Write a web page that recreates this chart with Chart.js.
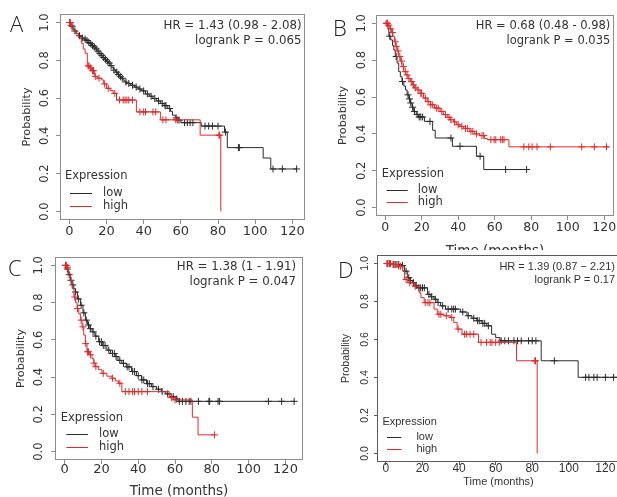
<!DOCTYPE html>
<html>
<head>
<meta charset="utf-8">
<script src="https://cdn.jsdelivr.net/npm/chart.js@4.4.1/dist/chart.umd.min.js"></script>
<style>
	html, body { margin: 0; padding: 0; background: #fff; }
	#figure { position: relative; width: 617px; height: 497px; overflow: hidden; background: #fff; }
	.panel { position: absolute; overflow: hidden; }
	.panel canvas { display: block; }
	.tag { position: absolute; z-index: 2; font-family: 'Open Sans', sans-serif; font-weight: 300; font-size: 22px; line-height: 22px; color: #222; }
</style>
</head>
<body>
<div id="figure">
	<div class="panel" style="left:20px;top:0;width:290px;height:250px"><canvas id="chartA" width="290" height="250"></canvas></div>
	<div class="panel" style="left:336px;top:0;width:281px;height:250px"><canvas id="chartB" width="283" height="260"></canvas></div>
	<div class="panel" style="left:14px;top:250px;width:294px;height:247px"><canvas id="chartC" width="294" height="250"></canvas></div>
	<div class="panel" style="left:339px;top:250px;width:278px;height:247px"><canvas id="chartD" width="286" height="239"></canvas></div>
	<div class="tag" style="left:10px;top:12px">A</div>
	<div class="tag" style="left:333px;top:16px">B</div>
	<div class="tag" style="left:8px;top:256px">C</div>
	<div class="tag" style="left:338px;top:258px">D</div>
</div>
<script>
// shared labels
const legendTitle = 'Expression';
const groupLabels = ['low', 'high'];
const yTitle = 'Probability';
const xTitle = 'Time (months)';

// A
const aNotes = ['HR = 1.43 (0.98 - 2.08)', 'logrank P = 0.065'];
const aLowSteps = [[0,1],[0.5,0.99],[1,0.98],[2,0.965],[3,0.955],[4,0.942],[5,0.93],[6,0.925],[7,0.918],[8,0.912],[9,0.905],[10,0.895],[11,0.888],[12,0.878],[13,0.87],[14,0.86],[15,0.848],[16,0.836],[17,0.826],[18,0.815],[19,0.805],[20,0.795],[21,0.785],[22,0.772],[23,0.76],[24,0.748],[25,0.737],[26,0.725],[27,0.713],[28,0.705],[29,0.695],[30,0.685],[31,0.677],[33,0.668],[35,0.658],[37,0.648],[39,0.638],[41,0.622],[43,0.61],[45,0.598],[47,0.585],[49,0.572],[51,0.56],[53,0.545],[54.5,0.53],[55.5,0.51],[57,0.495],[58.5,0.483],[60,0.47],[71,0.452],[83.5,0.42],[85,0.338],[104.3,0.283],[108.4,0.225],[122.3,0.225]];
const aLowCens = [[0.3,1],[1.5,0.98],[3,0.955],[5.5,0.93],[7,0.918],[8.5,0.912],[9.5,0.905],[10.5,0.895],[11.5,0.888],[12.5,0.878],[13.5,0.87],[14.5,0.86],[15.5,0.848],[16.5,0.836],[17.5,0.826],[18.5,0.815],[19.5,0.805],[20.5,0.795],[21.5,0.785],[22.5,0.772],[24,0.748],[25.5,0.737],[26.5,0.725],[27.5,0.713],[28.5,0.705],[30.5,0.685],[32,0.677],[34,0.668],[36,0.658],[38,0.648],[40,0.638],[42,0.622],[44,0.61],[46,0.598],[48,0.585],[50,0.572],[51.5,0.56],[52,0.56],[54,0.545],[57.5,0.495],[59,0.483],[62,0.47],[63.5,0.47],[65,0.47],[66.5,0.47],[73,0.452],[75,0.452],[77,0.452],[80,0.452],[84,0.42],[91,0.338],[91.5,0.338],[109.6,0.225],[114.6,0.225],[122.3,0.225]];
const aHighSteps = [[0,1],[0.8,0.985],[2,0.96],[3.5,0.94],[5,0.918],[6.5,0.89],[7.5,0.86],[8.5,0.838],[9.7,0.77],[11,0.76],[12,0.745],[13.5,0.715],[15,0.705],[17.4,0.696],[18.5,0.675],[20,0.652],[22,0.64],[23.6,0.625],[25.4,0.59],[36.1,0.527],[49,0.485],[70.4,0.404],[81.5,0]];
const aHighCens = [[0.3,1],[0.6,1],[1,0.985],[10.2,0.77],[10.6,0.77],[11.5,0.76],[12.5,0.745],[13,0.745],[14,0.715],[16,0.705],[19,0.675],[21,0.652],[24.5,0.625],[27,0.59],[29,0.59],[30,0.59],[31,0.59],[32,0.59],[34,0.59],[38,0.527],[40,0.527],[41,0.527],[45,0.527],[46.5,0.527],[50.3,0.485],[52,0.485],[57.3,0.485],[58.2,0.485],[80.5,0.404],[80.9,0.404]];

// B
const bNotes = ['HR = 0.68 (0.48 - 0.98)', 'logrank P = 0.035'];
const bLowSteps = [[0,1],[1.5,0.97],[2,0.93],[3,0.91],[4,0.88],[4.7,0.856],[5.5,0.82],[6.5,0.784],[7.4,0.738],[8.3,0.71],[9.2,0.684],[10.2,0.66],[11.1,0.639],[12,0.612],[13,0.59],[13.8,0.568],[14.7,0.545],[15.6,0.522],[17,0.505],[18.3,0.492],[21.5,0.468],[26,0.42],[27.4,0.378],[36.8,0.333],[50,0.279],[54,0.207],[77.5,0.207]];
const bLowCens = [[2.5,0.93],[6,0.82],[9.5,0.684],[12.5,0.612],[13.3,0.59],[14,0.568],[15,0.545],[16,0.522],[17.5,0.505],[18.6,0.492],[19.5,0.492],[20.5,0.492],[24.5,0.468],[36,0.378],[41,0.333],[52,0.279],[66,0.207],[77.5,0.207]];
const bHighSteps = [[0,1],[1.5,0.99],[2.5,0.97],[3.5,0.95],[4.2,0.93],[5,0.9],[5.8,0.875],[6.6,0.85],[7.4,0.82],[8.3,0.795],[9.2,0.765],[10.2,0.738],[11.2,0.72],[12.5,0.7],[13.8,0.684],[15,0.665],[16.2,0.65],[17.4,0.639],[19,0.62],[21,0.595],[23,0.575],[24.7,0.558],[27,0.54],[30.1,0.522],[32,0.505],[34,0.49],[35.6,0.477],[37.5,0.465],[39,0.45],[41,0.441],[43,0.43],[46.4,0.414],[49,0.4],[51.9,0.391],[54.5,0.375],[56,0.369],[67.8,0.33],[122.5,0.33]];
const bHighCens = [[0.5,1],[1,1],[1.2,1],[2,0.99],[3,0.97],[4,0.95],[5.5,0.9],[6,0.875],[7,0.85],[8,0.82],[9,0.795],[10,0.765],[11,0.738],[12,0.72],[13,0.7],[14.5,0.684],[15.5,0.665],[16.5,0.65],[18,0.639],[19.5,0.62],[20,0.62],[22,0.595],[23.5,0.575],[25,0.558],[26,0.558],[28,0.54],[29,0.54],[31,0.522],[33,0.505],[35,0.49],[36,0.477],[38,0.465],[40,0.45],[42,0.441],[44,0.43],[45,0.43],[47,0.414],[48,0.414],[50,0.4],[53,0.391],[54,0.391],[57.9,0.369],[59.7,0.369],[60.6,0.369],[63.3,0.369],[64.2,0.369],[65.1,0.369],[76,0.33],[78.7,0.33],[80.5,0.33],[83.2,0.33],[90.5,0.33],[107.7,0.33],[114.6,0.33],[121.3,0.33]];

// C
const cNotes = ['HR = 1.38 (1 - 1.91)', 'logrank P = 0.047'];
const cLowSteps = [[0,1],[1,0.98],[2,0.95],[3.2,0.92],[4,0.895],[5,0.875],[5.9,0.857],[7,0.82],[8.6,0.786],[10,0.745],[11.3,0.706],[12.5,0.68],[13.7,0.66],[14.9,0.643],[16.5,0.62],[18.5,0.59],[20.5,0.57],[23,0.545],[25,0.527],[27.5,0.51],[29,0.49],[31.1,0.474],[33.5,0.455],[36.4,0.43],[39,0.408],[41.8,0.385],[44.5,0.365],[47.2,0.349],[50,0.335],[52.6,0.322],[55,0.31],[58,0.296],[60.5,0.282],[62,0.27],[125,0.27]];
const cLowCens = [[0.5,1],[1.5,0.98],[2.5,0.95],[3.5,0.92],[4.5,0.895],[6,0.857],[7.5,0.82],[9,0.786],[10.5,0.745],[11.8,0.706],[13,0.68],[14,0.66],[15.5,0.643],[17,0.62],[19,0.59],[20,0.59],[21,0.57],[22,0.57],[24,0.545],[26,0.527],[27,0.527],[28,0.51],[30,0.49],[32,0.474],[34,0.455],[35,0.455],[37,0.43],[38,0.43],[40,0.408],[42,0.385],[43,0.385],[45,0.365],[46,0.365],[48,0.349],[51,0.335],[53,0.322],[56,0.31],[59,0.296],[61,0.282],[62.3,0.27],[64,0.27],[65.9,0.27],[67.7,0.27],[68.6,0.27],[72.7,0.27],[78.4,0.27],[78.8,0.27],[83.4,0.27],[84.2,0.27],[110.7,0.27],[117.9,0.27],[124.7,0.27]];
const cHighSteps = [[0,1],[1,0.99],[2,0.96],[3,0.92],[4.1,0.875],[5.1,0.83],[6,0.8],[6.8,0.768],[7.7,0.74],[8.6,0.706],[9.5,0.67],[10.4,0.626],[11.3,0.58],[12.2,0.536],[13.5,0.52],[14.9,0.5],[15.8,0.475],[16.7,0.456],[18.5,0.44],[20.3,0.42],[23,0.405],[25.7,0.394],[27.5,0.38],[29.3,0.367],[31.1,0.322],[56.9,0.29],[59,0.278],[69.4,0.185],[72.5,0.09],[81.5,0.09]];
const cHighCens = [[0.5,1],[1,1],[1.5,0.99],[5.5,0.83],[7,0.768],[9,0.706],[10,0.67],[11.5,0.58],[12.5,0.536],[13,0.536],[14,0.52],[16,0.475],[17,0.456],[21,0.42],[26,0.394],[30,0.367],[33,0.322],[35,0.322],[37,0.322],[38,0.322],[40,0.322],[42,0.322],[45,0.322],[58,0.29],[60,0.278],[81.5,0.09]];

// D
const dNotes = ['HR = 1.39 (0.87 \u2212 2.21)', 'logrank P = 0.17'];
const dLowSteps = [[0,1],[3,0.995],[8.3,0.99],[10.1,0.96],[11.9,0.925],[13,0.91],[14.6,0.899],[16,0.885],[17.3,0.872],[22.7,0.838],[24.5,0.825],[26.3,0.812],[28,0.795],[29.9,0.777],[32.6,0.76],[40.7,0.745],[44.3,0.725],[47,0.712],[49.7,0.699],[52.5,0.685],[55.1,0.672],[57.8,0.628],[60,0.61],[62.4,0.593],[84.9,0.488],[105.1,0.401],[128,0.401]];
const dLowCens = [[1,1],[2,1],[4,0.995],[5,0.995],[6,0.995],[7,0.995],[9,0.99],[11,0.96],[12.5,0.925],[13.5,0.91],[15,0.899],[16.5,0.885],[18,0.872],[19,0.872],[20,0.872],[21,0.872],[23.5,0.838],[25,0.825],[27,0.812],[28.5,0.795],[31,0.777],[34,0.76],[36,0.76],[37,0.76],[38,0.76],[42,0.745],[45,0.725],[48,0.712],[50,0.699],[51,0.699],[53,0.685],[54,0.685],[56,0.672],[63,0.593],[65,0.593],[67,0.593],[70,0.593],[72,0.593],[74,0.593],[78,0.593],[80,0.593],[82,0.593],[92.1,0.488],[109.2,0.401],[111,0.401],[113.7,0.401],[115.5,0.401],[120,0.401],[124.5,0.401]];
const dHighSteps = [[0,1],[3,0.995],[6.5,0.986],[9.2,0.96],[10.1,0.916],[12,0.899],[15.5,0.88],[18.2,0.846],[19.1,0.82],[20.9,0.794],[26.3,0.76],[28.1,0.733],[31.7,0.725],[35.4,0.716],[37.1,0.69],[38.9,0.655],[41.6,0.628],[50.6,0.585],[71.4,0.488],[82.7,0]];
const dHighCens = [[0.5,1],[1,1],[2,1],[2.5,1],[4,0.995],[5,0.995],[7,0.986],[8,0.986],[11,0.916],[13,0.899],[16,0.88],[21.5,0.794],[23,0.794],[24,0.794],[29,0.733],[30,0.733],[33,0.725],[36,0.716],[39.5,0.655],[43,0.628],[44,0.628],[46,0.628],[48,0.628],[52,0.585],[55,0.585],[57,0.585],[58,0.585],[60,0.585],[62,0.585],[81.4,0.488],[81.8,0.488]];

const lowColor = '#2b2b2b';
const highColor = '#e32b2b';

// draws the R-style frame, rotated y labels, HR text and legend
const kmFrame = {
	id: 'kmFrame',
	afterDraw(chart, args, opts) {
		const { ctx, chartArea: area } = chart;
		const yScale = chart.scales.y;
		const zero = yScale.getPixelForValue(0);
		ctx.save();
		ctx.strokeStyle = opts.boxColor;
		ctx.lineWidth = 1;
		ctx.strokeRect(Math.round(area.left) + 0.5, Math.round(area.top) + 0.5,
			Math.round(area.right - area.left) - 1, Math.round(area.bottom - area.top) - 1);

		ctx.fillStyle = opts.textColor;
		ctx.font = `${opts.yTickSize}px ${opts.family}`;
		ctx.textAlign = 'center';
		ctx.textBaseline = 'middle';
		yScale.ticks.forEach((tick) => {
			ctx.save();
			ctx.translate(area.left - opts.yTickGap, yScale.getPixelForValue(tick.value));
			ctx.rotate(-Math.PI / 2);
			ctx.fillText(tick.value.toFixed(1), 0, 0);
			ctx.restore();
		});

		ctx.font = `${opts.noteSize}px ${opts.family}`;
		ctx.textAlign = 'right';
		opts.notes.forEach((text, i) => {
			ctx.fillText(text, area.right - opts.noteRight, area.top + opts.noteTop[i]);
		});

		const lg = opts.legend;
		ctx.font = `${lg.size}px ${opts.family}`;
		ctx.textAlign = 'left';
		ctx.fillText(legendTitle, area.left + lg.x, zero - lg.titleDy);
		chart.data.datasets
			.filter((ds) => ds.showLine !== false)
			.forEach((ds, i) => {
				const y = zero - lg.rows[i];
				ctx.strokeStyle = ds.borderColor;
				ctx.beginPath();
				ctx.moveTo(area.left + lg.x0, Math.round(y) + 0.5);
				ctx.lineTo(area.left + lg.x1, Math.round(y) + 0.5);
				ctx.stroke();
				ctx.fillText(ds.label, area.left + lg.tx, y);
			});
		ctx.restore();
	},
};

const toPoints = (pairs) => pairs.map(([x, y]) => ({ x, y }));

const groupDatasets = (label, color, steps, cens, order) => [
	{
		label,
		data: toPoints(steps),
		stepped: true,
		borderColor: color,
		borderWidth: 1,
		pointRadius: 0,
		fill: false,
		order,
	},
	{
		label: label + ' censored',
		data: toPoints(cens),
		showLine: false,
		pointStyle: 'cross',
		pointRadius: 3.5,
		pointBorderWidth: 1,
		pointBorderColor: color,
		borderColor: color,
		order,
	},
];

const chartOptions = (low, high, notes, look) => {
	const font = (size) => ({ family: look.family, size });
	return {
		type: 'line',
		data: {
			datasets: [
				...groupDatasets(groupLabels[0], lowColor, low[0], low[1], 1),
				...groupDatasets(groupLabels[1], highColor, high[0], high[1], 0),
			],
		},
		options: {
			responsive: false,
			animation: false,
			events: [],
			layout: { padding: { top: look.padTop, right: look.padRight, left: 0, bottom: 0 } },
			scales: {
				x: {
					type: 'linear',
					min: look.xMin,
					max: look.xMax,
					afterFit: (scale) => { scale.height = look.xAxisH; },
					ticks: {
						stepSize: 20,
						includeBounds: false,
						maxRotation: 0,
						color: '#333',
						padding: look.xTickPad,
						font: font(look.xTickSize),
					},
					grid: { drawOnChartArea: false, tickLength: look.tickLen, color: look.boxColor },
					border: { display: false },
					title: {
						display: look.showXTitle,
						text: xTitle,
						color: '#333',
						padding: 0,
						font: font(look.xTitleSize),
					},
				},
				y: {
					min: -0.045,
					max: 1.045,
					afterFit: (scale) => { scale.width = look.yAxisW; },
					ticks: { stepSize: 0.2, includeBounds: false, display: false },
					grid: { drawOnChartArea: false, tickLength: look.tickLen, color: look.boxColor },
					border: { display: false },
					title: {
						display: true,
						text: yTitle,
						color: '#333',
						padding: { top: look.yTitlePad, bottom: 0 },
						font: font(look.yTitleSize),
					},
				},
			},
			plugins: {
				legend: { display: false },
				tooltip: { enabled: false },
				kmFrame: {
					boxColor: look.boxColor,
					textColor: '#333',
					family: look.family,
					yTickSize: look.yTickSize,
					yTickGap: look.yTickGap,
					noteSize: look.noteSize,
					notes,
					noteRight: look.noteRight,
					noteTop: look.noteTop,
					legend: look.legend,
				},
			},
		},
		plugins: [kmFrame],
	};
};

const dejavu = "'DejaVu Sans', sans-serif";
const liberation = "'Liberation Sans', Arial, sans-serif";

new Chart(document.getElementById('chartA'), chartOptions([aLowSteps, aLowCens], [aHighSteps, aHighCens], aNotes, {
	family: dejavu, padTop: 14, padRight: 4, xMin: -5, xMax: 126.8, xAxisH: 30, yAxisW: 40,
	xTickSize: 13, xTickPad: 0, tickLen: 4, showXTitle: false, xTitleSize: 13.5, yTitleSize: 11.2, yTitlePad: 0,
	boxColor: '#8c8c8c', yTickSize: 11.5, yTickGap: 15, noteSize: 11.8, noteRight: 3.5, noteTop: [11.7, 26.7],
	legend: { size: 11.5, x: 5, titleDy: 35, x0: 10, x1: 32, tx: 43, rows: [18, 5] },
}));

new Chart(document.getElementById('chartB'), chartOptions([bLowSteps, bLowCens], [bHighSteps, bHighCens], bNotes, {
	family: dejavu, padTop: 15, padRight: 3, xMin: -5.06, xMax: 125.4, xAxisH: 44, yAxisW: 40,
	xTickSize: 12.5, xTickPad: 0, tickLen: 4, showXTitle: true, xTitleSize: 13.5, yTitleSize: 11.2, yTitlePad: 0,
	boxColor: '#8c8c8c', yTickSize: 11.5, yTickGap: 14, noteSize: 11.5, noteRight: 3.7, noteTop: [11, 26],
	legend: { size: 11.5, x: 5.7, titleDy: 34, x0: 10.7, x1: 31.7, tx: 41.7, rows: [17.6, 6] },
}));

new Chart(document.getElementById('chartC'), chartOptions([cLowSteps, cLowCens], [cHighSteps, cHighCens], cNotes, {
	family: dejavu, padTop: 7, padRight: 3, xMin: -5.2, xMax: 129.5, xAxisH: 40, yAxisW: 41,
	xTickSize: 13, xTickPad: -2, tickLen: 4, showXTitle: true, xTitleSize: 13.5, yTitleSize: 11.2, yTitlePad: 0,
	boxColor: '#8c8c8c', yTickSize: 11.5, yTickGap: 16, noteSize: 11.8, noteRight: 7, noteTop: [10.3, 25.3],
	legend: { size: 11.5, x: 5.7, titleDy: 33.7, x0: 11.4, x1: 33, tx: 44, rows: [18, 4.3] },
}));

new Chart(document.getElementById('chartD'), chartOptions([dLowSteps, dLowCens], [dHighSteps, dHighCens], dNotes, {
	family: liberation, padTop: 4, padRight: 2, xMin: -4.9, xMax: 128, xAxisH: 27, yAxisW: 38,
	xTickSize: 12, xTickPad: -4, tickLen: 3, showXTitle: true, xTitleSize: 11, yTitleSize: 10.5, yTitlePad: 0.5,
	boxColor: '#5a5a5a', yTickSize: 10.5, yTickGap: 12.3, noteSize: 11, noteRight: 5, noteTop: [12, 25],
	legend: { size: 11, x: 5.4, titleDy: 31, x0: 10, x1: 24.4, tx: 39.4, rows: [16, 4] },
}));
</script>
</body>
</html>
